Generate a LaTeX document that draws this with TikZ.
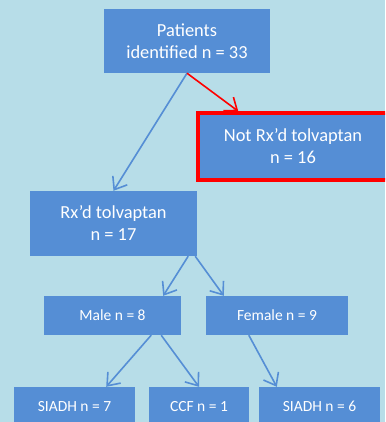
\documentclass[tikz,border=0pt]{standalone}
\usepackage{fontspec}
\setmainfont{Carlito}
\usetikzlibrary{arrows.meta, positioning}
\definecolor{bgblue}{HTML}{B7DDE8}
\definecolor{boxblue}{HTML}{558ED5}
\definecolor{flagred}{HTML}{FF0000}

\begin{document}
\begin{tikzpicture}[
    x=1pt, y=-1pt,
    box/.style={fill=boxblue, text=white, align=center, inner sep=0pt,
                font=\fontsize{18.4}{22}\selectfont},
    smallbox/.style={box, minimum height=39pt,
                font=\fontsize{15.5}{18}\selectfont},
    link/.style={draw=boxblue, line width=1.6pt,
                -{Straight Barb[length=11pt, width=17pt]}},
  ]
  % ===== canvas =====
  \useasboundingbox (0,0) rectangle (385,422);
  \fill[bgblue] (0,0) rectangle (385,422);
  \clip (0,0) rectangle (385,422);

  % ===== boxes =====
  \node[box, minimum width=166pt, minimum height=64pt] (total) at (187,41)
    {Patients\\identified n = 33};
  \node[box, draw=flagred, line width=3.5pt, minimum width=190pt,
        minimum height=67pt] (notrx) at (293,146.5)
    {Not Rx’d tolvaptan\\n = 16};
  \node[box, minimum width=167pt, minimum height=65pt] (rx) at (113.5,223.5)
    {Rx’d tolvaptan\\n = 17};
  \node[smallbox, minimum width=137pt] (male) at (112.5,315.5) {Male n = 8};
  \node[smallbox, minimum width=142pt] (female) at (277,315.5) {Female n = 9};
  \node[smallbox, minimum width=121pt] (msiadh) at (74.5,406.5) {SIADH n = 7};
  \node[smallbox, minimum width=100pt] (mccf) at (199,406.5) {CCF n = 1};
  \node[smallbox, minimum width=121pt] (fsiadh) at (319.5,406.5) {SIADH n = 6};

  % ===== connectors =====
  \draw[link] (total.south) -- (rx.north);
  \draw[link, draw=flagred] (total.south) -- ([xshift=42pt]notrx.north west);
  \draw[link] ([xshift=-9pt]rx.south east) -- ([xshift=-18pt]male.north east);
  \draw[link] ([xshift=-2pt]rx.south east) -- ([xshift=18pt]female.north west);
  \draw[link] ([xshift=-30pt]male.south east) -- ([xshift=-29pt]msiadh.north east);
  \draw[link] ([xshift=-20pt]male.south east) -- (mccf.north);
  \draw[link] ([xshift=43pt]female.south west) -- ([xshift=18pt]fsiadh.north west);
\end{tikzpicture}
\end{document}
